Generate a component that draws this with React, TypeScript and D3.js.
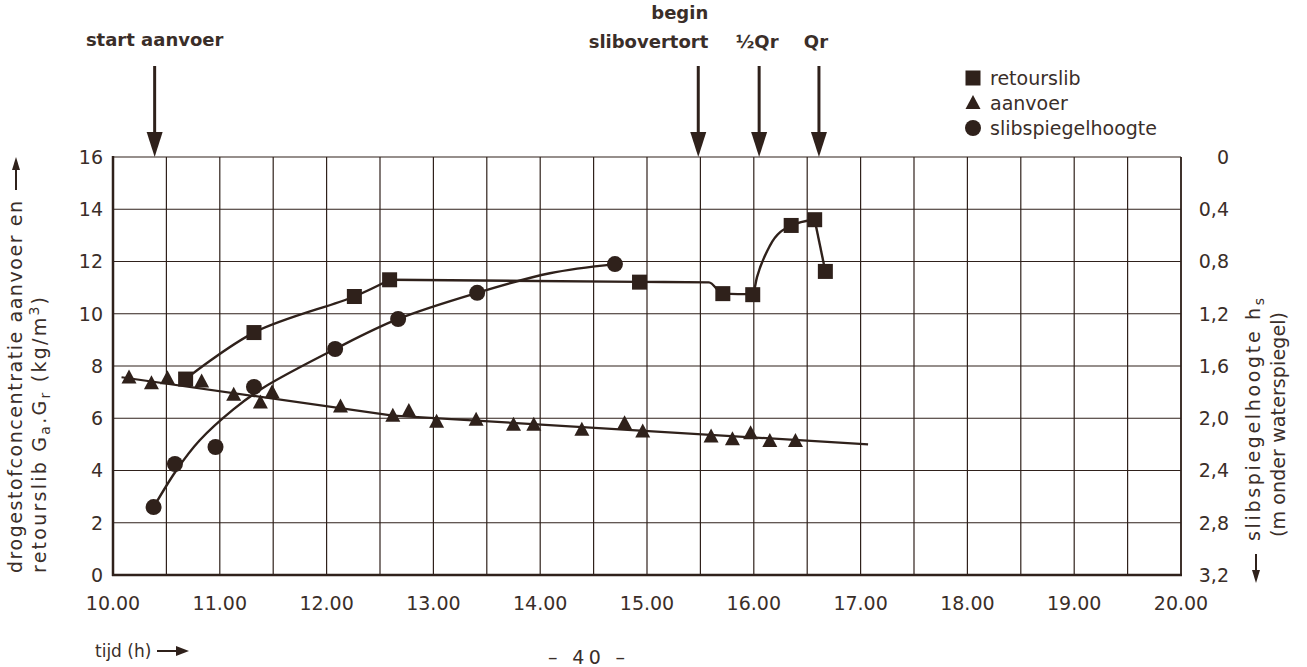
import React from 'react';
import * as d3 from 'd3';

// retourslib (squares), kg/m3
const retourTime = [10.68, 11.32, 12.26, 12.59, 14.93, 15.71, 15.99, 16.35, 16.57, 16.67];
const retourValue = [7.5, 9.28, 10.66, 11.3, 11.21, 10.77, 10.73, 13.38, 13.6, 11.62];
// hand drawn curve through retourslib, in three pieces
const retourRiseTime = [10.68, 11.32, 12.26, 12.59];
const retourRiseValue = [7.5, 9.28, 10.66, 11.3];
const retourMidTime = [12.59, 14.93, 15.58, 15.71, 15.99, 16.03, 16.15, 16.35, 16.57];
const retourMidValue = [11.3, 11.22, 11.2, 10.77, 10.75, 11.4, 12.6, 13.38, 13.6];
const retourDropTime = [16.57, 16.67];
const retourDropValue = [13.6, 11.62];

// aanvoer (triangles), kg/m3
const aanvoerTime = [10.15, 10.36, 10.51, 10.83, 11.13, 11.38, 11.49, 12.13, 12.62, 12.77, 13.03, 13.4,
  13.75, 13.94, 14.39, 14.79, 14.96, 15.6, 15.8, 15.97, 16.15, 16.39];
const aanvoerValue = [7.56, 7.34, 7.53, 7.41, 6.9, 6.6, 7.0, 6.45, 6.1, 6.28, 5.87, 5.94,
  5.75, 5.75, 5.56, 5.81, 5.49, 5.3, 5.2, 5.43, 5.13, 5.13];
const aanvoerFitTime = [10.08, 12.62, 17.07];
const aanvoerFitValue = [7.57, 6.1, 5.0];

// slibspiegelhoogte (circles), m onder waterspiegel
const slibTime = [10.38, 10.58, 10.96, 11.32, 12.08, 12.67, 13.41, 14.7];
const slibValue = [2.68, 2.35, 2.22, 1.76, 1.47, 1.24, 1.04, 0.82];
const slibFitTime = [10.38, 10.6, 10.81, 11.13, 11.4, 12.08, 12.67, 13.41, 14.09, 14.7];
const slibFitValue = [2.68, 2.39, 2.17, 1.93, 1.77, 1.47, 1.24, 1.04, 0.89, 0.82];

// events (arrows on top)
const eventTime = [10.39, 15.48, 16.05, 16.61];

const xTickValues = [10, 11, 12, 13, 14, 15, 16, 17, 18, 19, 20];
const xTickLabels = ['10.00', '11.00', '12.00', '13.00', '14.00', '15.00', '16.00', '17.00', '18.00', '19.00', '20.00'];
const yLeftTicks = [0, 2, 4, 6, 8, 10, 12, 14, 16];
const yRightTicks = [0, 0.4, 0.8, 1.2, 1.6, 2.0, 2.4, 2.8, 3.2];
const yRightLabels = ['0', '0,4', '0,8', '1,2', '1,6', '2,0', '2,4', '2,8', '3,2'];

const legendLabels = ['retourslib', 'aanvoer', 'slibspiegelhoogte'];

const ink = '#2f211b';
const textInk = '#3a2e29';
const font = 'DejaVu Sans';

const App = () => {
  const width = 1307;
  const height = 667;
  const left = 113;
  const right = 1181;
  const top = 157;
  const bottom = 575;

  const x = d3.scaleLinear().domain([10, 20]).range([left, right]);
  const y = d3.scaleLinear().domain([0, 16]).range([bottom, top]);
  const yr = d3.scaleLinear().domain([0, 3.2]).range([top, bottom]);

  const gridTimes = d3.range(10, 20.001, 0.5);

  const lineOf = (times: number[], values: number[], sc: any, curve: any) =>
    d3.line<number>()
      .x((d, i) => x(times[i]))
      .y(d => sc(d))
      .curve(curve)(values) || '';

  const retourPaths = [
    lineOf(retourRiseTime, retourRiseValue, y, d3.curveCatmullRom.alpha(0.5)),
    lineOf(retourMidTime, retourMidValue, y, d3.curveMonotoneX),
    lineOf(retourDropTime, retourDropValue, y, d3.curveLinear),
  ];
  const aanvoerLine = lineOf(aanvoerFitTime, aanvoerFitValue, y, d3.curveLinear);
  const slibLine = lineOf(slibFitTime, slibFitValue, yr, d3.curveCatmullRom.alpha(0.5));

  const square = (cx: number, cy: number, key: any) =>
    <rect key={key} x={cx - 7.5} y={cy - 7.5} width={15} height={15} fill={ink} />;
  const triangle = (cx: number, cy: number, key: any) =>
    <path key={key} d={`M${cx},${cy - 8} L${cx + 7.5},${cy + 6} L${cx - 7.5},${cy + 6} Z`} fill={ink} />;
  const circle = (cx: number, cy: number, key: any) =>
    <circle key={key} cx={cx} cy={cy} r={8} fill={ink} />;

  const arrowTop = 66;
  const downArrow = (ax: number, key: any) => (
    <g key={key}>
      <line x1={ax} x2={ax} y1={arrowTop} y2={top - 18} stroke={ink} strokeWidth={3} />
      <path d={`M${ax - 8},${top - 25} L${ax + 8},${top - 25} L${ax},${top} Z`} fill={ink} />
    </g>
  );

  return (
    <svg width={width} height={height} style={{ position: 'absolute', left: 0, top: 0, background: '#fff' }}
      fontFamily={font}>
      {/* grid */}
      <g stroke={ink} strokeWidth={1.2}>
        {gridTimes.map((t, i) => <line key={'v' + i} x1={x(t)} x2={x(t)} y1={top} y2={bottom} />)}
        {yLeftTicks.map((v, i) => <line key={'h' + i} x1={left} x2={right} y1={y(v)} y2={y(v)} />)}
      </g>
      {/* frame */}
      <line x1={left} x2={left} y1={top - 1} y2={bottom + 1} stroke={ink} strokeWidth={2.5} />
      <line x1={left - 1} x2={right + 1} y1={bottom} y2={bottom} stroke={ink} strokeWidth={2.5} />
      <line x1={right} x2={right} y1={top} y2={bottom} stroke={ink} strokeWidth={1.6} />

      {/* left ticks */}
      <g fill={textInk} fontSize={19} textAnchor="end">
        {yLeftTicks.map((v, i) => <text key={i} x={103} y={y(v)} dy="0.36em">{v}</text>)}
      </g>
      {/* right ticks */}
      <g fill={textInk} fontSize={19} textAnchor="end">
        {yRightTicks.map((v, i) => <text key={i} x={1229} y={yr(v)} dy="0.36em">{yRightLabels[i]}</text>)}
      </g>
      {/* bottom ticks */}
      <g fill={textInk} fontSize={19} textAnchor="middle">
        {xTickValues.map((v, i) => <text key={i} x={x(v)} y={610}>{xTickLabels[i]}</text>)}
      </g>

      {/* curves */}
      {retourPaths.map((p, i) => <path key={i} d={p} fill="none" stroke={ink} strokeWidth={2.4} />)}
      <path d={aanvoerLine} fill="none" stroke={ink} strokeWidth={2.2} />
      <path d={slibLine} fill="none" stroke={ink} strokeWidth={2.4} />

      {/* markers */}
      {aanvoerTime.map((t, i) => triangle(x(t), y(aanvoerValue[i]), 'a' + i))}
      {retourTime.map((t, i) => square(x(t), y(retourValue[i]), 'r' + i))}
      {slibTime.map((t, i) => circle(x(t), yr(slibValue[i]), 's' + i))}

      {/* event arrows */}
      {eventTime.map((t, i) => downArrow(x(t), 'e' + i))}
      <g fill={textInk} fontSize={18} fontWeight="bold">
        <text x={x(eventTime[0])} y={46} textAnchor="middle">start aanvoer</text>
        <text x={x(eventTime[1]) + 10} y={19} textAnchor="end">begin</text>
        <text x={x(eventTime[1]) + 10} y={48} textAnchor="end">slibovertort</text>
        <text x={x(eventTime[2]) - 2} y={48} textAnchor="middle">½Qr</text>
        <text x={x(eventTime[3]) - 3} y={48} textAnchor="middle">Qr</text>
      </g>

      {/* legend */}
      <g fill={textInk} fontSize={19}>
        {square(973, 78, 'ls')}
        {triangle(973, 103, 'lt')}
        {circle(973, 128, 'lc')}
        {legendLabels.map((l, i) => <text key={i} x={990} y={78 + i * 25} dy="0.36em">{l}</text>)}
      </g>

      {/* left axis title */}
      <g fill={textInk} fontSize={19}>
        <text transform="translate(22,573) rotate(-90)" textLength={372}>drogestofconcentratie aanvoer en</text>
        <text transform="translate(46,573) rotate(-90)" textLength={276}>
          retourslib G<tspan fontSize={14} dy={4}>a</tspan><tspan dy={-4}>.G</tspan><tspan fontSize={14} dy={4}>r</tspan><tspan dy={-4}> (kg/m</tspan><tspan fontSize={14} dy={-7}>3</tspan><tspan dy={7}>)</tspan>
        </text>
      </g>
      <line x1={16} x2={16} y1={190} y2={166} stroke={ink} strokeWidth={2} />
      <path d="M12,170 L20,170 L16,157 Z" fill={ink} />

      {/* right axis title */}
      <g fill={textInk} fontSize={19}>
        <text transform="translate(1260,541) rotate(-90)" textLength={243}>
          slibspiegelhoogte h<tspan fontSize={14} dy={4}>s</tspan>
        </text>
        <text transform="translate(1285,537) rotate(-90)" textLength={225}>(m onder waterspiegel)</text>
      </g>
      <line x1={1256} x2={1256} y1={554} y2={574} stroke={ink} strokeWidth={2} />
      <path d="M1252,570 L1260,570 L1256,583 Z" fill={ink} />

      {/* x axis title */}
      <text x={95} y={657} fill={textInk} fontSize={17}>tijd (h)</text>
      <line x1={157} x2={180} y1={651} y2={651} stroke={ink} strokeWidth={2} />
      <path d="M176,646 L189,651 L176,656 Z" fill={ink} />

      {/* page number */}
      <text x={548} y={664} fill={textInk} fontSize={19} textLength={77}>– 40 –</text>
    </svg>
  );
};

export default App;
